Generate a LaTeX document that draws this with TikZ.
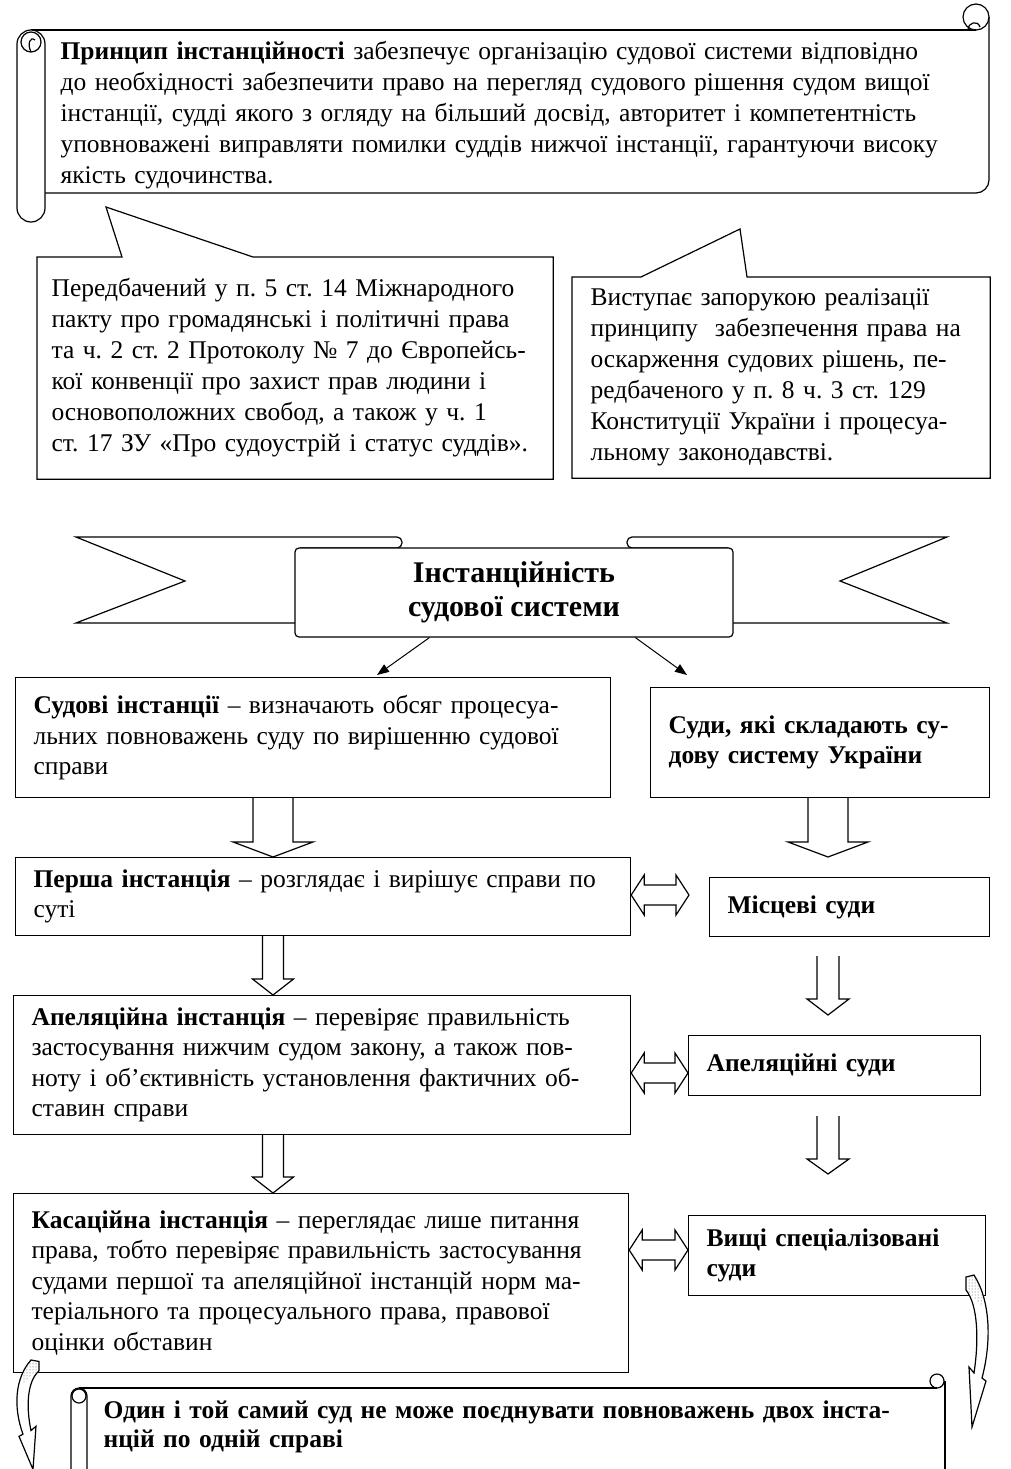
\documentclass[tikz,border=0pt]{standalone}
\usepackage{fontspec}
\setmainfont{Liberation Serif}
\usetikzlibrary{calc,arrows.meta,patterns}

\newcommand{\bodyfont}{\fontsize{25.5}{30.5}\selectfont\frenchspacing}
\newcommand{\notefont}{\fontsize{25.5}{31}\selectfont\frenchspacing}

\tikzset{
  outline/.style={draw, line width=1.2pt},
  box/.style={draw, line width=1.2pt, anchor=north west, align=left,
    inner xsep=18pt, inner ysep=0pt, font=\bodyfont},
  boldbox/.style={box, font=\bodyfont\bfseries},
  notebox/.style={box, draw=none, font=\notefont},
  blockarrow/.style={draw, line width=1.2pt},
  thinarrow/.style={line width=1pt, -{Triangle[length=12pt,width=9pt]}},
  dotfill/.style={pattern=dots, pattern color=black!70}
}

% #1 top, #2 tip, #3 shaft half width, #4 head half width, #5 head length
\newcommand{\blockdown}[5]{%
  \draw[blockarrow] let \p1=#1, \p2=#2 in
    (\x2-#3pt,\y1) -- (\x2-#3pt,\y2+#5pt) -- (\x2-#4pt,\y2+#5pt) -- (\x2,\y2)
    -- (\x2+#4pt,\y2+#5pt) -- (\x2+#3pt,\y2+#5pt) -- (\x2+#3pt,\y1);
}
% #1 left tip, #2 right tip, #3 shaft half width, #4 head half width, #5 head length
\newcommand{\blockboth}[5]{%
  \draw[blockarrow] let \p1=#1, \p2=#2 in
    (\x1,\y1) -- (\x1+#5pt,\y1+#4pt) -- (\x1+#5pt,\y1+#3pt) -- (\x2-#5pt,\y1+#3pt)
    -- (\x2-#5pt,\y1+#4pt) -- (\x2,\y1) -- (\x2-#5pt,\y1-#4pt) -- (\x2-#5pt,\y1-#3pt)
    -- (\x1+#5pt,\y1-#3pt) -- (\x1+#5pt,\y1-#4pt) -- cycle;
}
% curved arrow, local frame: top left at origin, y downwards
\newcommand{\curvedarrow}{%
  \draw[outline, fill=white] (0,2) -- (8,0) .. controls (24,25) and (26,65) .. (16,103)
    -- (20,106) -- (6,152) -- (3,92) -- (8,98) .. controls (13,65) and (12,30) .. (0,15) -- cycle;
  \fill[dotfill] (0,2) -- (8,0) .. controls (13,8) and (16,20) .. (17,33)
    .. controls (13,30) and (8,22) .. (0,15) -- cycle;
}

\begin{document}
\begin{tikzpicture}[x=1pt,y=-1pt]
\useasboundingbox (0,0) rectangle (1010,1469);

% top scroll
\draw[outline] (31,30) -- (976,30);
\draw[outline] (976,17) circle[radius=13pt];
\draw[outline] (968,30) .. controls (968,22) and (978,20) .. (980,27);
\draw[outline, rounded corners=13pt] (989,17) -- (989,193) -- (45,193);
\draw[outline, rounded corners=14pt, fill=white] (17,30) rectangle (45,222);
\draw[outline] (31,42) circle[radius=10pt];
\draw[outline] (31,52) .. controls (27,44) and (30,36) .. (35,40);
\node[notebox, text width=915pt, minimum height=163pt, inner xsep=15pt] (principle) at (45,33)
  {\textbf{Принцип інстанційності} забезпечує організацію судової системи відповідно\\
   до необхідності забезпечити право на перегляд судового рішення судом вищої\\
   інстанції, судді якого з огляду на більший досвід, авторитет і компетентність\\
   уповноважені виправляти помилки суддів нижчої інстанції, гарантуючи високу\\
   якість судочинства.};

% callouts
\node[notebox, text width=487pt, minimum height=221pt, inner xsep=14pt] (pact) at (37,257)
  {Передбачений у п. 5 ст. 14 Міжнародного\\
   пакту про громадянські і політичні права\\
   та ч. 2 ст. 2 Протоколу № 7 до Європейсь-\\
   кої конвенції про захист прав людини і\\
   основоположних свобод, а також у ч. 1\\
   ст. 17 ЗУ «Про судоустрій і статус суддів».};
\coordinate (tipA) at (106,207);
\draw[outline] (pact.north west) -- ($(pact.north west)+(85,0)$) -- (tipA)
  -- ($(pact.north west)+(216,0)$) -- (pact.north east) -- (pact.south east)
  -- (pact.south west) -- cycle;

\node[notebox, text width=381pt, minimum height=200pt] (guarantee) at (572,277)
  {Виступає запорукою реалізації\\
   принципу~ забезпечення права на\\
   оскарження судових рішень, пе-\\
   редбаченого у п. 8 ч. 3 ст. 129\\
   Конституції України і процесуа-\\
   льному законодавстві.};
\coordinate (tipB) at (740,229);
\draw[outline] (guarantee.north west) -- ($(guarantee.north west)+(69,0)$) -- (tipB)
  -- ($(guarantee.north west)+(175,0)$) -- (guarantee.north east) -- (guarantee.south east)
  -- (guarantee.south west) -- cycle;

% banner
\draw[outline] (295,623) -- (76,623) -- (185,581) -- (76,537)
  [rounded corners=5pt] -- (402,537) -- (402,548) -- (300,548);
\draw[outline] (733,623) -- (947,623) -- (840,581) -- (947,537)
  [rounded corners=5pt] -- (627,537) -- (627,548) -- (728,548);
\node[outline, rounded corners=4pt, fill=white, minimum width=438pt, minimum height=89pt,
  align=center, font=\fontsize{30}{34}\selectfont\bfseries] (banner) at (514,592.5)
  {Інстанційність\\судової системи};

% left column
\node[box, text width=559pt, minimum height=120pt] (courtinst) at (15,677)
  {\textbf{Судові інстанції} – визначають обсяг процесуа-\\
   льних повноважень суду по вирішенню судової\\
   справи};
\node[box, text width=579pt, minimum height=78pt] (first) at (15,857)
  {\textbf{Перша інстанція} – розглядає і вирішує справи по\\
   суті};
\node[box, text width=581pt, minimum height=139pt] (appeal) at (13,995)
  {\textbf{Апеляційна інстанція} – перевіряє правильність\\
   застосування нижчим судом закону, а також пов-\\
   ноту і об’єктивність установлення фактичних об-\\
   ставин справи};
\node[box, text width=579pt, minimum height=179pt] (cassation) at (13,1193)
  {\textbf{Касаційна інстанція} – переглядає лише питання\\
   права, тобто перевіряє правильність застосування\\
   судами першої та апеляційної інстанцій норм ма-\\
   теріального та процесуального права, правової\\
   оцінки обставин};

% right column
\node[boldbox, text width=303pt, minimum height=110pt] (system) at (650,687)
  {Суди, які складають су-\\
   дову систему України};
\node[boldbox, text width=244pt, minimum height=59pt] (local) at (709,877)
  {Місцеві суди};
\node[boldbox, text width=256pt, minimum height=60pt] (appcourts) at (688,1035)
  {Апеляційні суди};
\node[boldbox, text width=261pt, minimum height=80pt] (higher) at (688,1215)
  {Вищі спеціалізовані\\
   суди};

% arrows from the banner
\draw[thinarrow] ($(banner.south west)+(135,0)$) -- ($(courtinst.north west)+(362,-2)$);
\draw[thinarrow] ($(banner.south west)+(341,0)$) -- ($(system.north west)+(37,-12)$);

% block arrows
\blockdown{(273,0 |- courtinst.south)}{(273,0 |- first.north)}{20}{40}{15}
\blockdown{(273,0 |- first.south)}{(273,0 |- appeal.north)}{10.5}{20.5}{16}
\blockdown{(273,0 |- appeal.south)}{(273,0 |- cassation.north)}{10.5}{20.5}{16}
\blockdown{(828,0 |- system.south)}{($(828,0 |- local.north)+(0,-20)$)}{20}{40}{15}
\blockdown{($(828,0 |- local.south)+(0,19)$)}{($(828,0 |- appcourts.north)+(0,-20)$)}{11}{21}{16}
\blockdown{($(828,0 |- appcourts.south)+(0,20)$)}{($(828,0 |- higher.north)+(0,-41)$)}{11}{21}{15}

\blockboth{(first.east |- 0,895)}{($(local.west |- 0,895)+(-20,0)$)}{10}{20}{13}
\blockboth{(appeal.east |- 0,1073)}{(appcourts.west |- 0,1073)}{10}{20}{13}
\blockboth{(cassation.east |- 0,1250)}{(higher.west |- 0,1250)}{10}{20}{13}

% bottom scroll
\draw[outline] (79,1388) -- (937,1388);
\draw[outline] (937,1381) circle[radius=7pt];
\draw[outline] (945,1381) -- (945,1480);
\draw[outline, rounded corners=8pt] (71,1480) -- (71,1388) -- (87,1388) -- (87,1480);
\draw[outline] (79,1396) circle[radius=7pt];
\node[box, draw=none, text width=830pt, inner xsep=16pt, inner ysep=12pt,
  font=\fontsize{25.5}{29}\selectfont\bfseries] (rule) at (87,1388)
  {Один і той самий суд не може поєднувати повноважень двох інста-\\
   нцій по одній справі};

% curved arrows
\begin{scope}[shift={(966,1275)}]
  \curvedarrow
\end{scope}
\begin{scope}[shift={(39,1360)}, xscale=-1, yscale=0.72]
  \curvedarrow
\end{scope}
\end{tikzpicture}
\end{document}
